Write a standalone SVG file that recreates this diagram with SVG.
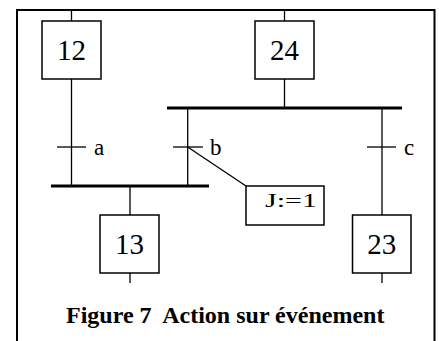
<svg xmlns="http://www.w3.org/2000/svg" width="439" height="341" viewBox="0 0 439 341">
<style>
.frame{fill:none;stroke:#000;stroke-width:2}
.box{fill:#fff;stroke:#000;stroke-width:1.5}
.ln{stroke:#000;stroke-width:1.3;fill:none}
.bar{stroke:#000;stroke-width:3}
.num{font-family:"Liberation Serif",serif;font-size:29px;text-anchor:middle;fill:#000}
.lab{font-family:"Liberation Serif",serif;font-size:23px;fill:#000}
.act{font-family:"Liberation Serif",serif;font-size:18px;fill:#000}
.cap{font-family:"Liberation Serif",serif;font-size:24px;font-weight:bold;fill:#000}
</style>
<rect width="439" height="341" fill="#fff"/>
<path class="frame" d="M17,342 V10 H434.5 V342"/>
<g id="connectors">
  <line class="ln" x1="71.5" y1="10" x2="71.5" y2="21"/>
  <line class="ln" x1="284.5" y1="10" x2="284.5" y2="21"/>
  <line class="ln" x1="71.5" y1="79" x2="71.5" y2="186"/>
  <line class="ln" x1="284.5" y1="79" x2="284.5" y2="108"/>
  <line class="bar" x1="167" y1="108" x2="402" y2="108"/>
  <line class="ln" x1="187.7" y1="108" x2="187.7" y2="186"/>
  <line class="ln" x1="382" y1="108" x2="382" y2="215"/>
  <line class="bar" x1="51" y1="186" x2="209" y2="186"/>
  <line class="ln" x1="130" y1="186" x2="130" y2="215"/>
  <line class="ln" x1="130" y1="273" x2="130" y2="283"/>
  <line class="ln" x1="382" y1="273" x2="382" y2="283"/>
  <line class="ln" x1="187.7" y1="147" x2="246" y2="186"/>
</g>
<g id="t_a">
  <line class="ln" x1="57" y1="147" x2="86" y2="147"/>
  <text class="lab" x="94" y="155">a</text>
</g>
<g id="t_b">
  <line class="ln" x1="173" y1="147" x2="203" y2="147"/>
  <text class="lab" x="210" y="155">b</text>
</g>
<g id="t_c">
  <line class="ln" x1="367" y1="147" x2="396" y2="147"/>
  <text class="lab" x="404" y="155">c</text>
</g>
<g id="step12">
  <rect class="box" x="42" y="21" width="59" height="58"/>
  <text class="num" x="71.5" y="59.5">12</text>
</g>
<g id="step24">
  <rect class="box" x="255" y="21" width="59" height="58"/>
  <text class="num" x="284.5" y="59.5">24</text>
</g>
<g id="step13">
  <rect class="box" x="100" y="215" width="59" height="58"/>
  <text class="num" x="129.5" y="253.5">13</text>
</g>
<g id="step23">
  <rect class="box" x="352.5" y="215" width="58.5" height="58"/>
  <text class="num" x="381.7" y="253.5">23</text>
</g>
<g id="action">
  <rect class="box" x="246" y="186" width="78" height="39"/>
  <text class="act" x="265" y="206.5" textLength="52" lengthAdjust="spacingAndGlyphs">J:=1</text>
</g>
<text class="cap" x="66" y="323" xml:space="preserve">Figure 7  Action sur événement</text>
</svg>
